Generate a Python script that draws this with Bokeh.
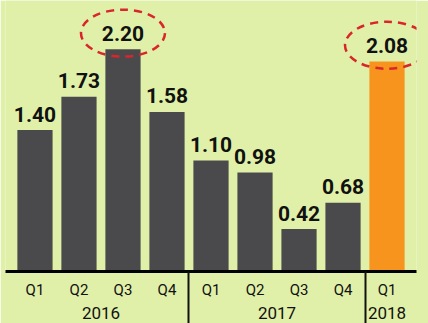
from bokeh.plotting import figure
from bokeh.models import Range1d, LinearAxis, FixedTicker
from bokeh.core.properties import value
from bokeh.embed import file_html
from bokeh.resources import INLINE

# ---- data ----
quarters = ["Q1", "Q2", "Q3", "Q4", "Q1", "Q2", "Q3", "Q4", "Q1"]
years = ["2016", "2017", "2018"]
year_counts = [4, 4, 1]
values = [1.40, 1.73, 2.20, 1.58, 1.10, 0.98, 0.42, 0.68, 2.08]
value_labels = ["1.40", "1.73", "2.20", "1.58", "1.10", "0.98", "0.42", "0.68", "2.08"]
circled = [2, 8]

# ---- derived ----
xs = list(range(len(values)))
BG = "#e0f0a8"
GRAY = "#4a4a4c"
ORANGE = "#f7941e"
colors = [GRAY] * (len(values) - 1) + [ORANGE]

year_centers, separators = [], []
start = 0
for i, c in enumerate(year_counts):
    year_centers.append(start + (c - 1) / 2.0)
    start += c
    if i < len(year_counts) - 1:
        separators.append(start - 0.5)

FONT_NAME = "Roboto"
FONT = value(FONT_NAME)

p = figure(width=428, height=323, x_range=Range1d(-0.67, 8.67), y_range=Range1d(0, 2.683),
           x_axis_location=None, y_axis_location=None, toolbar_location=None,
           output_backend="svg", min_border_left=5, min_border_right=12,
           min_border_top=0, min_border_bottom=52)
p.background_fill_color = BG
p.border_fill_color = BG
p.outline_line_color = None
p.xgrid.visible = False
p.ygrid.visible = False

p.vbar(x=xs, top=values, width=0.8, bottom=0, fill_color=colors, line_color=None)

p.text(x=xs, y=values, text=value_labels, text_align="center", text_baseline="alphabetic",
       y_offset=-16, text_font=FONT, text_font_style="bold", text_font_size="21px",
       text_color="#111111")

p.ellipse(x=[xs[i] for i in circled], y=[values[i] + 0.16 for i in circled],
          width=84, height=47, width_units="screen", height_units="screen",
          fill_color=None, line_color="#d9262c", line_width=2.5, line_dash="8 6")

SEP = 52
qaxis = LinearAxis(ticker=FixedTicker(ticks=xs, minor_ticks=separators),
                   major_label_overrides={x: q for x, q in zip(xs, quarters)})
qaxis.axis_line_color = "#000000"
qaxis.axis_line_width = 3
qaxis.major_tick_line_color = None
qaxis.major_tick_out = 0
qaxis.major_tick_in = 0
qaxis.minor_tick_out = SEP
qaxis.minor_tick_in = 0
qaxis.minor_tick_line_color = "#111111"
qaxis.minor_tick_line_width = 2
qaxis.major_label_text_font = FONT_NAME
qaxis.major_label_text_font_size = "15px"
qaxis.major_label_text_color = "#111111"
qaxis.major_label_standoff = 9 - SEP
p.add_layout(qaxis, "below")

yaxis = LinearAxis(ticker=FixedTicker(ticks=year_centers, minor_ticks=[]),
                   major_label_overrides={c: y for c, y in zip(year_centers, years)})
yaxis.axis_line_color = None
yaxis.major_tick_line_color = None
yaxis.major_tick_out = 0
yaxis.major_tick_in = 0
yaxis.minor_tick_line_color = None
yaxis.minor_tick_out = 0
yaxis.minor_tick_in = 0
yaxis.major_label_text_font = FONT_NAME
yaxis.major_label_text_font_size = "17px"
yaxis.major_label_text_color = "#111111"
yaxis.major_label_standoff = 5
p.add_layout(yaxis, "below")

open("out.html", "w").write(file_html(p, INLINE))
